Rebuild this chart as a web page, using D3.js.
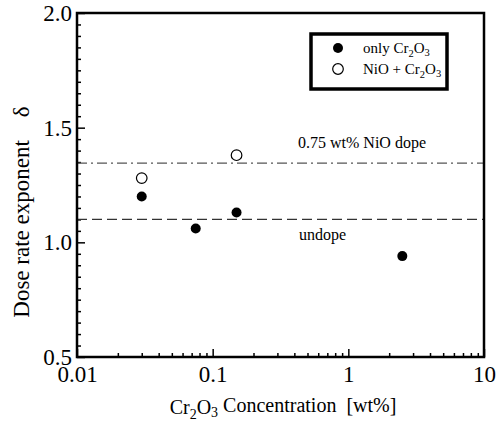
<!DOCTYPE html>
<html>
<head>
<meta charset="utf-8">
<script src="https://cdn.jsdelivr.net/npm/d3@7"></script>
<style>
  body { margin: 0; background: #fff; }
  svg text { font-family: "Liberation Serif", "Times New Roman", Times, serif; fill: #000; white-space: pre; }
</style>
</head>
<body>
<div id="chart"></div>
<script>
// data
var onlyCrX = [0.03, 0.075, 0.15, 2.5];
var onlyCrY = [1.20, 1.06, 1.13, 0.94];
var nioCrX = [0.03, 0.15];
var nioCrY = [1.28, 1.38];
var refLevels = [1.345, 1.10];
var refLabels = ['0.75 wt% NiO dope', 'undope'];
var xTicks = [0.01, 0.1, 1, 10];
var xTickLabels = ['0.01', '0.1', '1', '10'];
var yTicks = [0.5, 1.0, 1.5, 2.0];

var width = 501,
    height = 424,
    mLeft = 77, mRight = 484, mTop = 13, mBottom = 357;

var svg = d3.select('#chart')
    .append('svg')
    .attr('width', width)
    .attr('height', height);

var x = d3.scaleLog().domain([0.01, 10]).range([mLeft, mRight]);
var y = d3.scaleLinear().domain([0.5, 2.0]).range([mBottom, mTop]);

// minor ticks
var xMinor = [];
[0.01, 0.1, 1].forEach(function (d) {
    for (var k = 2; k <= 9; k++) xMinor.push(d * k);
});
var yMinor = d3.range(0.55, 2.0, 0.05).filter(function (v) {
    return Math.abs(v * 2 - Math.round(v * 2)) > 0.01;
});

var serif = '"Liberation Serif", "Times New Roman", Times, serif';

// x axis (ticks inward)
svg.append('g')
    .attr('transform', 'translate(0,' + mBottom + ')')
    .call(d3.axisBottom(x).tickValues(xMinor).tickSize(-4).tickFormat(''))
    .call(function (g) { g.select('.domain').remove(); });
svg.append('g')
    .attr('transform', 'translate(0,' + mBottom + ')')
    .call(d3.axisBottom(x).tickValues(xTicks).tickSize(-8).tickPadding(20)
        .tickFormat(function (d, i) { return xTickLabels[i]; }))
    .attr('font-family', serif)
    .call(function (g) { g.select('.domain').remove(); })
    .call(function (g) { g.selectAll('text').attr('font-size', 23).attr('dy', '0.2em'); });

// y axis (ticks inward)
svg.append('g')
    .attr('transform', 'translate(' + mLeft + ',0)')
    .call(d3.axisLeft(y).tickValues(yMinor).tickSize(-4).tickFormat(''))
    .call(function (g) { g.select('.domain').remove(); });
svg.append('g')
    .attr('transform', 'translate(' + mLeft + ',0)')
    .call(d3.axisLeft(y).tickValues(yTicks).tickSize(-8).tickPadding(5).tickFormat(d3.format('.1f')))
    .attr('font-family', serif)
    .call(function (g) { g.select('.domain').remove(); })
    .call(function (g) { g.selectAll('text').attr('font-size', 23); });

svg.selectAll('.tick line').attr('stroke', '#000').attr('stroke-width', 1.5);

// reference lines
svg.append('line')
    .attr('x1', mLeft).attr('x2', mRight)
    .attr('y1', y(refLevels[0])).attr('y2', y(refLevels[0]))
    .attr('stroke', '#555').attr('stroke-width', 1.3)
    .attr('stroke-dasharray', '10,4,2,4');
svg.append('line')
    .attr('x1', mLeft).attr('x2', mRight)
    .attr('y1', y(refLevels[1])).attr('y2', y(refLevels[1]))
    .attr('stroke', '#333').attr('stroke-width', 1.3)
    .attr('stroke-dasharray', '10,5');

svg.append('text')
    .attr('x', 298).attr('y', y(refLevels[0]) - 15)
    .attr('font-size', 16)
    .text(refLabels[0]);
svg.append('text')
    .attr('x', 299).attr('y', y(refLevels[1]) + 21)
    .attr('font-size', 16)
    .text(refLabels[1]);

// points
svg.selectAll('circle.filled')
    .data(onlyCrX)
    .enter()
    .append('circle')
    .attr('class', 'filled')
    .attr('cx', function (d) { return x(d); })
    .attr('cy', function (d, i) { return y(onlyCrY[i]); })
    .attr('r', 5)
    .attr('fill', '#000');

svg.selectAll('circle.open')
    .data(nioCrX)
    .enter()
    .append('circle')
    .attr('class', 'open')
    .attr('cx', function (d) { return x(d); })
    .attr('cy', function (d, i) { return y(nioCrY[i]); })
    .attr('r', 5.3)
    .attr('fill', '#fff')
    .attr('stroke', '#000')
    .attr('stroke-width', 1.2);

// frame
svg.append('rect')
    .attr('x', mLeft).attr('y', mTop)
    .attr('width', mRight - mLeft).attr('height', mBottom - mTop)
    .attr('fill', 'none')
    .attr('stroke', '#000')
    .attr('stroke-width', 2.5);

// legend
var legend = svg.append('g');
legend.append('rect')
    .attr('x', 311).attr('y', 34)
    .attr('width', 136).attr('height', 55)
    .attr('fill', '#fff')
    .attr('stroke', '#000')
    .attr('stroke-width', 3.5);
legend.append('circle')
    .attr('cx', 338).attr('cy', 48).attr('r', 5).attr('fill', '#000');
legend.append('circle')
    .attr('cx', 338).attr('cy', 69).attr('r', 5.3)
    .attr('fill', '#fff').attr('stroke', '#000').attr('stroke-width', 1.2);

var chem = function (sel, prefix) {
    sel.append('tspan').text(prefix + 'Cr');
    sel.append('tspan').attr('font-size', '0.7em').attr('dy', '0.35em').text('2');
    sel.append('tspan').attr('dy', '-0.25em').text('O');
    sel.append('tspan').attr('font-size', '0.7em').attr('dy', '0.25em').text('3');
};
legend.append('text').attr('x', 363).attr('y', 53).attr('font-size', 15)
    .call(chem, 'only ');
legend.append('text').attr('x', 363).attr('y', 74).attr('font-size', 15)
    .call(chem, 'NiO + ');

// axis titles
var xTitle = svg.append('text')
    .attr('x', 283).attr('y', 414)
    .attr('text-anchor', 'middle')
    .attr('font-size', 20);
chem(xTitle, '');
xTitle.append('tspan').attr('dy', '-0.25em').text(' Concentration  [wt%]');

svg.append('text')
    .attr('transform', 'translate(29,212) rotate(-90)')
    .attr('text-anchor', 'middle')
    .attr('font-size', 23)
    .text('Dose rate exponent    \u03b4');
</script>
</body>
</html>
